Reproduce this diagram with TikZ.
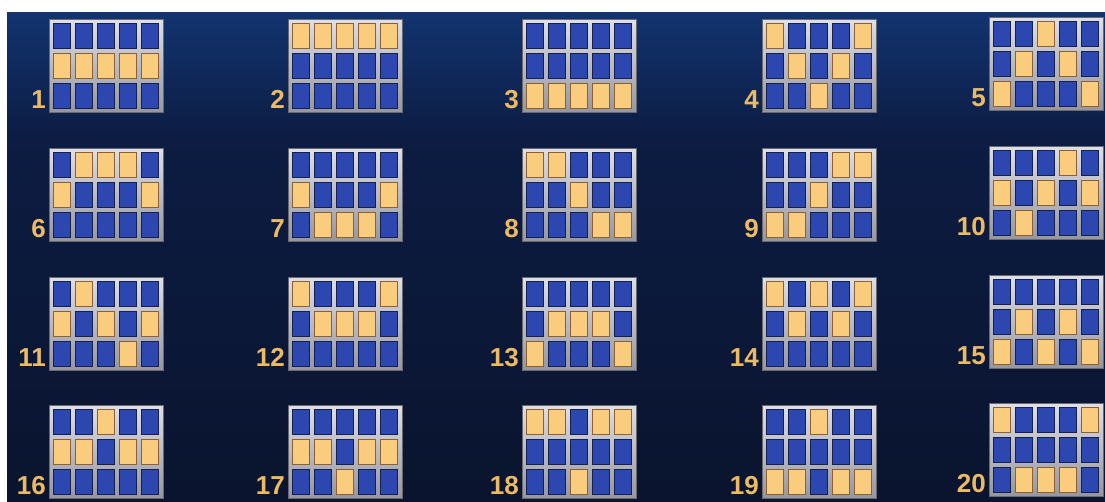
\documentclass[tikz,border=0pt]{standalone}
\usepackage{fontspec}
\usepackage{xcolor}
\usepackage{tikz}
\newfontfamily\numfont{Liberation Sans}

\definecolor{bgtop}{RGB}{18,52,112}
\definecolor{bgmid}{RGB}{12,28,66}
\definecolor{bgbot}{RGB}{10,20,46}
\definecolor{framehi}{RGB}{222,224,230}
\definecolor{framelo}{RGB}{150,150,158}
\definecolor{offblue}{RGB}{44,72,176}
\definecolor{offedge}{RGB}{22,32,78}
\definecolor{hitgold}{RGB}{250,204,126}
\definecolor{hitedge}{RGB}{140,96,52}
\definecolor{numgold}{RGB}{236,186,100}

\tikzset{
  frame/.style={top color=framehi, bottom color=framelo, draw=framelo!70!black, line width=0.6pt},
  offcell/.style={fill=offblue, draw=offedge, line width=1pt},
  hitcell/.style={fill=hitgold, draw=hitedge, line width=1pt},
  paynum/.style={anchor=base east, text=numgold, inner sep=0pt,
    font=\numfont\bfseries\fontsize{26}{26}\selectfont}
}

% #1 left, #2 top, #3 line number, #4 lit row for each of the 5 reels
\newcommand{\payicon}[4]{%
  \path[frame] (#1,#2) rectangle ++(114,93);
  \foreach \r [count=\c from 0] in {#4} {
    \foreach \k in {1,2,3} {
      \ifnum\k=\r
        \path[hitcell] (#1+4+22*\c,#2+4+30*\k-30) rectangle ++(17,25);
      \else
        \path[offcell] (#1+4+22*\c,#2+4+30*\k-30) rectangle ++(17,25);
      \fi
    }
  }
  \node[paynum] (num#3) at (#1-3,#2+89) {#3};
}

\begin{document}
\begin{tikzpicture}[x=1pt,y=-1pt]
% Column and row positions
\def\cola{49}
\def\colb{288}
\def\colc{522}
\def\cold{762}
\def\cole{989}
\def\rowa{19}
\def\rowb{148}
\def\rowc{277}
\def\rowd{405}

% Page and background
\useasboundingbox (0,0) rectangle (1105,501);
\fill[white] (0,0) rectangle (1105,501);
\fill[top color=bgtop, bottom color=bgmid] (7,12) rectangle (1105,140);
\fill[top color=bgmid, bottom color=bgbot] (7,140) rectangle (1105,501);

% Row 1
\payicon{\cola}{\rowa}{1}{2,2,2,2,2}
\payicon{\colb}{\rowa}{2}{1,1,1,1,1}
\payicon{\colc}{\rowa}{3}{3,3,3,3,3}
\payicon{\cold}{\rowa}{4}{1,2,3,2,1}
\payicon{\cole}{\rowa-2}{5}{3,2,1,2,3}

% Row 2
\payicon{\cola}{\rowb}{6}{2,1,1,1,2}
\payicon{\colb}{\rowb}{7}{2,3,3,3,2}
\payicon{\colc}{\rowb}{8}{1,1,2,3,3}
\payicon{\cold}{\rowb}{9}{3,3,2,1,1}
\payicon{\cole}{\rowb-2}{10}{2,3,2,1,2}

% Row 3
\payicon{\cola}{\rowc}{11}{2,1,2,3,2}
\payicon{\colb}{\rowc}{12}{1,2,2,2,1}
\payicon{\colc}{\rowc}{13}{3,2,2,2,3}
\payicon{\cold}{\rowc}{14}{1,2,1,2,1}
\payicon{\cole}{\rowc-2}{15}{3,2,3,2,3}

% Row 4
\payicon{\cola}{\rowd}{16}{2,2,1,2,2}
\payicon{\colb}{\rowd}{17}{2,2,3,2,2}
\payicon{\colc}{\rowd}{18}{1,1,3,1,1}
\payicon{\cold}{\rowd}{19}{3,3,1,3,3}
\payicon{\cole}{\rowd-2}{20}{1,3,3,3,1}
\end{tikzpicture}
\end{document}
